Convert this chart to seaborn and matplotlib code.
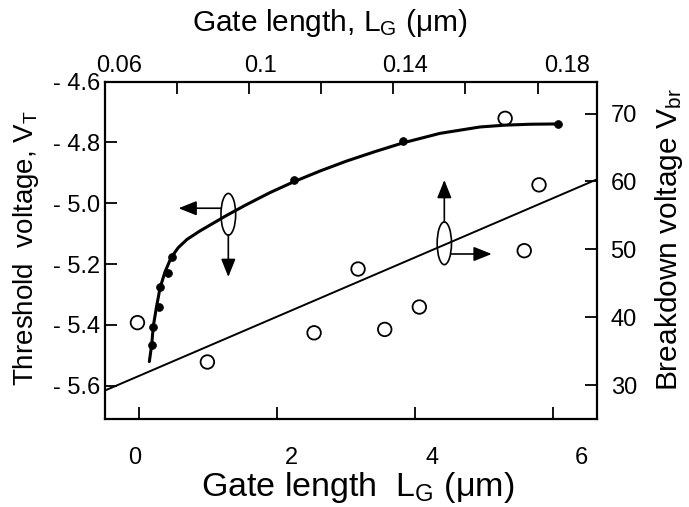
import numpy as np
import pandas as pd
import matplotlib
matplotlib.use("Agg")
import matplotlib.pyplot as plt
import seaborn as sns
from matplotlib.patches import Ellipse
from matplotlib.transforms import ScaledTranslation

# ---- data: threshold voltage vs gate length (bottom / left axes) ----
vt_len = [0.181, 0.205, 0.285, 0.300, 0.413, 0.480, 2.245, 3.831, 6.07]
vt_val = [-5.467, -5.406, -5.340, -5.277, -5.230, -5.176, -4.923, -4.795, -4.739]
# fitted curve
curve_len = [0.147, 0.181, 0.205, 0.251, 0.302, 0.374, 0.461, 0.563, 0.693, 0.882,
             1.056, 1.245, 1.535, 1.897, 2.245, 2.622, 3.010, 3.421, 3.831,
             4.363, 4.943, 5.306, 5.669, 6.070]
curve_val = [-5.521, -5.466, -5.404, -5.341, -5.279, -5.226, -5.180, -5.147, -5.119, -5.091,
             -5.068, -5.043, -5.007, -4.965, -4.929, -4.894, -4.861, -4.830, -4.801,
             -4.770, -4.749, -4.743, -4.740, -4.739]

# ---- data: breakdown voltage vs gate length (top / right axes) ----
vbr_len = [0.0690, 0.0884, 0.1180, 0.1302, 0.1376, 0.1472, 0.1710, 0.1763, 0.1804]
vbr_val = [39.2, 33.4, 37.7, 47.1, 38.2, 41.5, 69.3, 49.8, 59.5]
fit_len = [0.06, 0.1964]
fit_val = [29.2, 60.3]

# ---- ticks ----
bottom_ticks = [0, 2, 4, 6]
bottom_labels = ["0", "2", "4", "6"]
top_ticks = [0.06, 0.08, 0.10, 0.12, 0.14, 0.16, 0.18]
top_labels = ["0.06", "", "0.1", "", "0.14", "", "0.18"]
left_ticks = [-4.6, -4.8, -5.0, -5.2, -5.4, -5.6]
left_labels = ["- 4.6", "- 4.8", "- 5.0", "- 5.2", "- 5.4", "- 5.6"]
right_ticks = [30, 40, 50, 60, 70]
right_labels = ["30", "40", "50", "60", "70"]

sns.set_style("ticks")
plt.rcParams["font.family"] = ["Liberation Sans", "DejaVu Sans"]
plt.rcParams["mathtext.fontset"] = "custom"
plt.rcParams["mathtext.rm"] = "Liberation Sans"
plt.rcParams["mathtext.it"] = "Liberation Sans"
for k in ["axes.edgecolor", "text.color", "xtick.color", "ytick.color", "axes.labelcolor"]:
    plt.rcParams[k] = "black"

fig = plt.figure(figsize=(6.89, 5.07), dpi=100)
pos = [105 / 689, 1 - 419 / 507, 491.7 / 689, 337.3 / 507]
ax = fig.add_axes(pos)
ax2 = fig.add_axes(pos, frameon=False)
ax2.xaxis.tick_top()
ax2.xaxis.set_label_position("top")
ax2.yaxis.tick_right()
ax2.yaxis.set_label_position("right")

# V_T curve and points
sns.lineplot(x=curve_len, y=curve_val, ax=ax, sort=False, color="black", lw=2.2)
sns.scatterplot(x=vt_len, y=vt_val, ax=ax, color="black", edgecolor="black",
                s=32, linewidth=0.5, zorder=3)
# V_br line and points
sns.lineplot(x=fit_len, y=fit_val, ax=ax2, sort=False, color="black", lw=1.4)
sns.scatterplot(x=vbr_len, y=vbr_val, ax=ax2, color="black", facecolor="none",
                edgecolor="black", s=95, linewidth=1.3, zorder=3)

ax.set_xlim(-0.496, 6.636)
ax.set_ylim(-5.71, -4.6)
ax2.set_xlim(0.06, 0.1964)
ax2.set_ylim(25.0, 74.7)

for s in ax.spines.values():
    s.set_linewidth(1.6)

ax.set_xticks(bottom_ticks, bottom_labels)
ax.set_yticks(left_ticks, left_labels)
ax2.set_xticks(top_ticks, top_labels)
ax2.set_yticks(right_ticks, right_labels)

ax.tick_params(axis="both", which="major", direction="in", length=8.5, width=1.3,
               labelsize=17, top=False, right=False)
ax.tick_params(axis="x", pad=20.5)
ax.tick_params(axis="y", pad=3.6)
ax2.tick_params(axis="both", which="major", direction="in", length=8.5, width=1.3,
                labelsize=17, bottom=False, left=False, labelbottom=False, labelleft=False)
ax2.tick_params(axis="x", pad=3.7)
ax2.tick_params(axis="y", pad=10)

# axis labels
ax.set_xlabel(r"Gate length  L$_{\mathrm{G}}$ (μm)", fontsize=24.5)
ax.xaxis.set_label_coords(0.5145, -0.152)
ax.set_ylabel(r"Threshold  voltage, V$_{\mathrm{T}}$", fontsize=20)
ax.yaxis.set_label_coords(-0.13, 0.507)
ax2.set_xlabel(r"Gate length, L$_{\mathrm{G}}$ (μm)", fontsize=21.5)
ax2.xaxis.set_label_coords(0.4576, 1.15)
ax2.set_ylabel(r"Breakdown voltage V$_{\mathrm{br}}$", fontsize=21.5)
ax2.yaxis.set_label_coords(1.115, 0.531)

# ellipses with arrows
arrow_kw = dict(arrowstyle="-|>,head_length=0.55,head_width=0.22", mutation_scale=20,
                lw=1.2, color="black", shrinkA=0, shrinkB=0)
ax2.add_patch(Ellipse((0.2508, 0.6069), 0.0299, 0.1236, transform=ax2.transAxes,
                      fill=False, lw=1.2, ec="black"))
ax2.annotate("", xy=(0.1495, 0.6249), xytext=(0.2359, 0.6249),
             xycoords="axes fraction", arrowprops=arrow_kw)
ax2.annotate("", xy=(0.2508, 0.4210), xytext=(0.2508, 0.5456),
             xycoords="axes fraction", arrowprops=arrow_kw)
ax2.add_patch(Ellipse((0.6901, 0.5209), 0.0291, 0.1266, transform=ax2.transAxes,
                      fill=False, lw=1.2, ec="black"))
ax2.annotate("", xy=(0.6901, 0.7086), xytext=(0.6901, 0.5840),
             xycoords="axes fraction", arrowprops=arrow_kw)
ax2.annotate("", xy=(0.7865, 0.4892), xytext=(0.7047, 0.4892),
             xycoords="axes fraction", arrowprops=arrow_kw)

# tick label placement as printed in the original figure
bottom_shift = [-3.0, 10.0, 12.0, 20.8]
for tick, dx in zip(ax.xaxis.get_major_ticks(), bottom_shift):
    lab = tick.label1
    lab.set_transform(lab.get_transform() + ScaledTranslation(dx / 72, 0, fig.dpi_scale_trans))
top_shift = [10.3, 0, 7.8, 0, 8.4, 0, 21.0]
for tick, dx in zip(ax2.xaxis.get_major_ticks(), top_shift):
    lab = tick.label2
    lab.set_transform(lab.get_transform() + ScaledTranslation(dx / 72, 0, fig.dpi_scale_trans))

fig.savefig("out.png", dpi=100)
